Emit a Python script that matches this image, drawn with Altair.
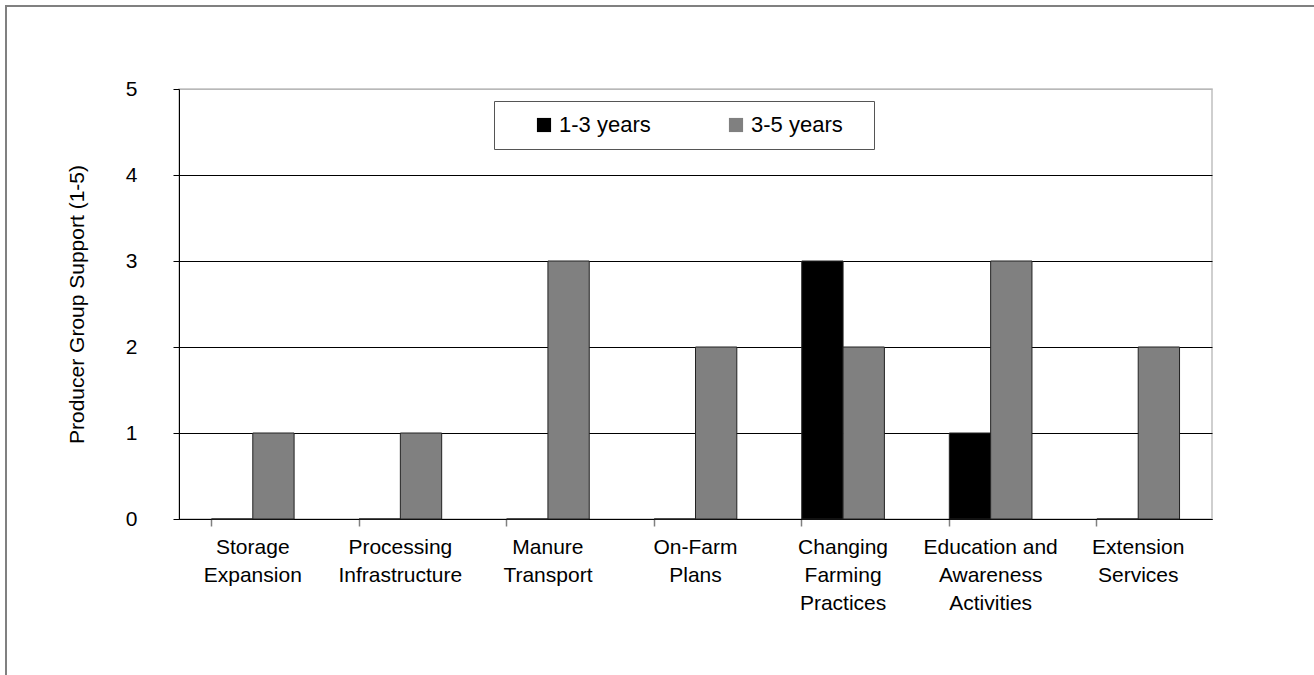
import altair as alt
import pandas as pd

categories = [
    "Storage\nExpansion",
    "Processing\nInfrastructure",
    "Manure\nTransport",
    "On-Farm\nPlans",
    "Changing\nFarming\nPractices",
    "Education and\nAwareness\nActivities",
    "Extension\nServices",
]
series_names = ["1-3 years", "3-5 years"]
values_1_3 = [0, 0, 0, 0, 3, 1, 0]
values_3_5 = [1, 1, 3, 2, 2, 3, 2]
y_ticks = [0, 1, 2, 3, 4, 5]
colors = ["#000000", "#808080"]

rows = []
for c, a, b in zip(categories, values_1_3, values_3_5):
    rows.append({"category": c, "series": series_names[0], "value": a})
    rows.append({"category": c, "series": series_names[1], "value": b})
df = pd.DataFrame(rows)

FONT = "Liberation Sans"

bars = alt.Chart(df).mark_bar(stroke="#222222", strokeWidth=1).encode(
    x=alt.X(
        "category:N",
        sort=categories,
        scale=alt.Scale(paddingInner=0.44, paddingOuter=0.22),
        axis=alt.Axis(
            title=None,
            labelAngle=0,
            labelExpr="split(datum.label, '\\n')",
            labelFontSize=21,
            labelFont=FONT,
            labelColor="black",
            labelPadding=10,
            labelLineHeight=28,
            labelBaseline="top",
            bandPosition=0,
            tickSize=7,
            tickColor="#808080",
            tickWidth=1.5,
            domainColor="black",
            grid=False,
        ),
    ),
    xOffset=alt.XOffset("series:N", sort=series_names, scale=alt.Scale(paddingInner=0, paddingOuter=0)),
    y=alt.Y(
        "value:Q",
        scale=alt.Scale(domain=[0, 5], nice=False),
        axis=alt.Axis(
            title="Producer Group Support (1-5)",
            values=y_ticks,
            labelFontSize=21,
            labelFont=FONT,
            labelColor="black",
            labelPadding=36,
            tickSize=6,
            tickColor="black",
            domainColor="black",
            gridColor={"condition": {"test": "datum.value == 5", "value": "#b8b8b8"}, "value": "black"},
            gridWidth=1,
            titleFont=FONT,
            titleFontSize=21,
            titleFontWeight="normal",
            titleColor="black",
            titlePadding=38,
        ),
    ),
    color=alt.Color(
        "series:N",
        sort=series_names,
        scale=alt.Scale(domain=series_names, range=colors),
        legend=alt.Legend(
            title="\u00a0",
            titleOrient="right",
            titlePadding=18,
            titleFontSize=22,
            orient="none",
            legendX=315,
            legendY=12,
            direction="horizontal",
            columns=2,
            symbolType="square",
            symbolSize=200,
            symbolStrokeWidth=0,
            labelFontSize=22,
            labelFont=FONT,
            labelColor="black",
            labelOffset=4,
            columnPadding=48,
            padding=13,
            symbolOffset=26,
            strokeColor="#555555",
            fillColor="white",
        ),
    ),
)

frame = alt.Chart(pd.DataFrame({"a": [0]})).mark_rect(
    fill=None, stroke="#808080", strokeWidth=2
).encode(
    x=alt.value(-173),
    x2=alt.value(1200),
    y=alt.value(-83),
    y2=alt.value(700),
)

chart = alt.layer(frame, bars).properties(
    width=1033,
    height=430,
    autosize=alt.AutoSizeParams(type="none"),
    padding={"left": 179, "top": 89, "right": 102, "bottom": 156},
    background="white",
).configure_view(stroke="#c0c0c0", strokeWidth=1.5)

chart.save("out.html", embed_options={"renderer": "svg", "actions": False})
